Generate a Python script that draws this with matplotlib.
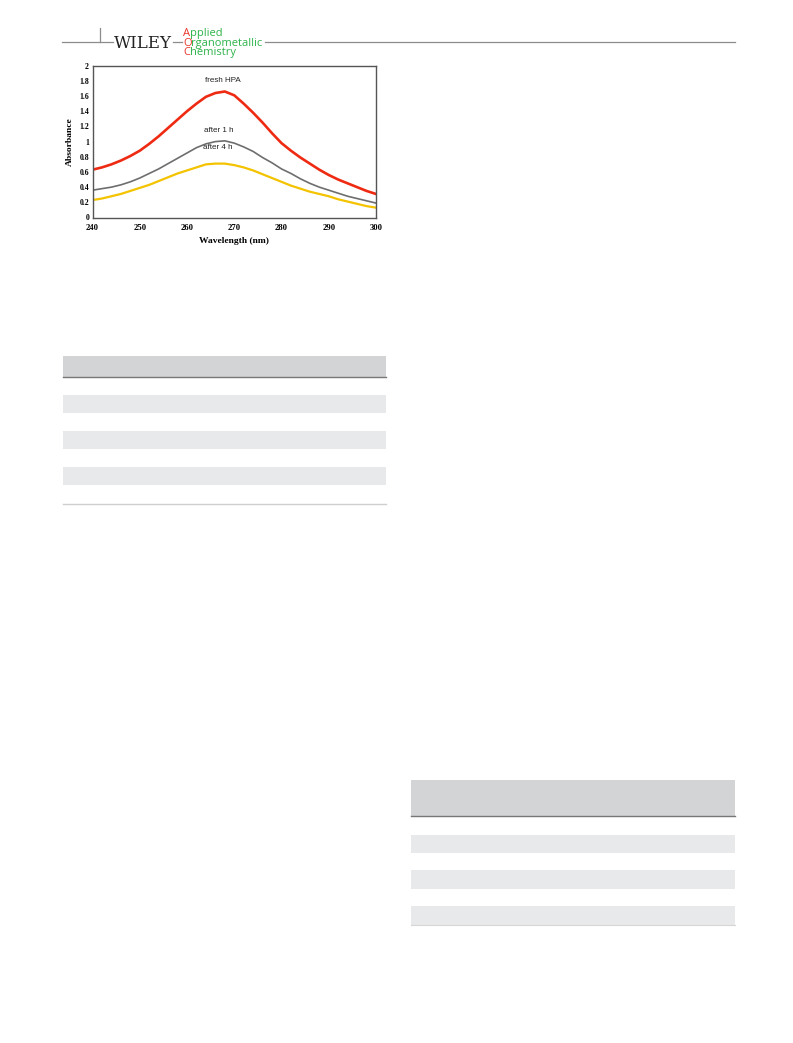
import matplotlib.pyplot as plt
from matplotlib.patches import Rectangle

# spectra (2 nm steps)
wavelength = [240, 242, 244, 246, 248, 250, 252, 254, 256, 258, 260, 262, 264, 266, 268, 270,
              272, 274, 276, 278, 280, 282, 284, 286, 288, 290, 292, 294, 296, 298, 300]
fresh_hpa = [0.63, 0.66, 0.70, 0.75, 0.81, 0.88, 0.97, 1.07, 1.18, 1.29, 1.40, 1.50, 1.59, 1.64, 1.66, 1.61,
             1.50, 1.38, 1.25, 1.11, 0.98, 0.88, 0.79, 0.71, 0.63, 0.56, 0.50, 0.45, 0.40, 0.35, 0.31]
after_1h = [0.36, 0.38, 0.40, 0.43, 0.47, 0.52, 0.58, 0.64, 0.71, 0.78, 0.85, 0.92, 0.97, 1.00, 1.01, 0.98,
            0.93, 0.87, 0.79, 0.72, 0.64, 0.58, 0.51, 0.45, 0.40, 0.36, 0.32, 0.28, 0.25, 0.22, 0.19]
after_4h = [0.23, 0.25, 0.28, 0.31, 0.35, 0.39, 0.43, 0.48, 0.53, 0.58, 0.62, 0.66, 0.70, 0.71, 0.71, 0.69,
            0.66, 0.62, 0.57, 0.52, 0.47, 0.42, 0.38, 0.34, 0.31, 0.28, 0.24, 0.21, 0.18, 0.15, 0.13]

labels = ['fresh HPA', 'after 1 h', 'after 4 h']
label_x = [267.5, 266.8, 266.6]
label_y = [1.80, 1.14, 0.92]

xticks = [240, 250, 260, 270, 280, 290, 300]
yticks = [0, 0.2, 0.4, 0.6, 0.8, 1, 1.2, 1.4, 1.6, 1.8, 2]
ytick_labels = ['0', '0.2', '0.4', '0.6', '0.8', '1', '1.2', '1.4', '1.6', '1.8', '2']

W, H = 793, 1043
fig = plt.figure(figsize=(W / 100, H / 100), dpi=100)

# page decorations in pixel coordinates
page = fig.add_axes([0, 0, 1, 1], zorder=0)
page.set_xlim(0, W)
page.set_ylim(H, 0)
page.axis('off')

line_c = '#8c8c8c'
for x0, x1 in [(62, 113), (173, 182), (265, 735)]:
    page.plot([x0, x1], [42, 42], color=line_c, lw=0.9)
page.plot([99.5, 99.5], [28, 42], color=line_c, lw=0.9)
page.text(114, 48, 'WILEY', fontsize=12, family='DejaVu Serif', color='#222222',
          va='baseline', ha='left')

red_c, green_c = '#e8352b', '#2db34a'
for i, word in enumerate(['Applied', 'Organometallic', 'Chemistry']):
    y = 36 + 9.6 * i
    t = page.text(183, y, word[0], fontsize=8, family='Open Sans', color=red_c,
                  va='baseline', ha='left')
    fig.canvas.draw()
    bb = t.get_window_extent()
    page.text(183 + bb.width, y, word[1:], fontsize=8, family='Open Sans',
              color=green_c, va='baseline', ha='left')

# table bands
head_c, stripe_c = '#d3d4d6', '#e8e9ea'
page.add_patch(Rectangle((62.5, 356), 323.5, 20.5, color=head_c, lw=0))
page.plot([62.5, 386], [377, 377], color='#777777', lw=1.0)
for y0 in [394.5, 430.5, 466.5]:
    page.add_patch(Rectangle((62.5, y0), 323.5, 18, color=stripe_c, lw=0))
page.plot([62.5, 386], [503.5, 503.5], color='#cfcfcf', lw=1.0)

page.add_patch(Rectangle((411, 780), 323.5, 36, color=head_c, lw=0))
page.plot([411, 734.5], [816.3, 816.3], color='#777777', lw=1.0)
for y0 in [834.5, 870.3, 906.3]:
    page.add_patch(Rectangle((411, y0), 323.5, 18.3, color=stripe_c, lw=0))
page.plot([411, 734.5], [925, 925], color='#d6d6d6', lw=0.8)

# the spectrum chart
ax = fig.add_axes([92.5 / W, 1 - 217.5 / H, (376 - 92.5) / W, (217.5 - 65.7) / H], zorder=1)
ax.plot(wavelength, fresh_hpa, color='#ee2a12', lw=1.9)
ax.plot(wavelength, after_1h, color='#6e6e6e', lw=1.2)
ax.plot(wavelength, after_4h, color='#f4c300', lw=1.6)

for lab, lx, ly in zip(labels, label_x, label_y):
    ax.text(lx, ly, lab, fontsize=5.8, family='Liberation Sans', color='#222222',
            ha='center', va='center')

ax.set_xlim(240, 300)
ax.set_ylim(0, 2)
ax.set_xticks(xticks)
ax.set_yticks(yticks)
ax.set_yticklabels(ytick_labels)
ax.tick_params(axis='x', length=0, pad=4.5)
ax.tick_params(axis='y', length=0, pad=2.5)
for lab in ax.get_xticklabels():
    lab.set_fontsize(6.2)
    lab.set_family('Liberation Serif')
    lab.set_fontweight('bold')
for lab in ax.get_yticklabels():
    lab.set_fontsize(5.6)
    lab.set_family('Liberation Serif')
    lab.set_fontweight('bold')
for s in ax.spines.values():
    s.set_color('#555555')
    s.set_linewidth(1.0)

ax.set_xlabel('Wavelength (nm)', fontsize=6.8, family='Liberation Serif',
              fontweight='bold', labelpad=4)
ax.set_ylabel('Absorbance', fontsize=6.8, family='Liberation Serif',
              fontweight='bold', labelpad=4)

fig.savefig('out.png', dpi=100)
